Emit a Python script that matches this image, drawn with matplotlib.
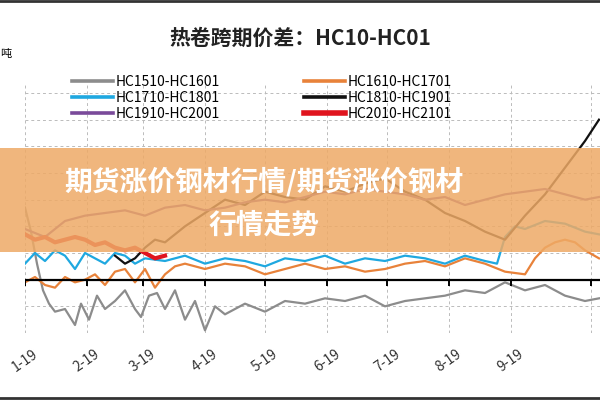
import matplotlib
matplotlib.use("Agg")
import matplotlib.pyplot as plt
from matplotlib.lines import Line2D
from matplotlib.patches import Rectangle

plt.rcParams['font.family'] = ['Noto Sans CJK SC', 'DejaVu Sans']

# day offsets from 2019-01-01 and month tick labels
month_days = [0, 31, 59, 90, 120, 151, 181, 212, 243, 283]
month_labels = ["1-19", "2-19", "3-19", "4-19", "5-19", "6-19", "7-19", "8-19", "9-19", ""]

gray_x = [0, 3, 6, 9, 12, 15, 20, 25, 28, 32, 36, 40, 45, 50, 55, 58, 62, 66, 70, 75, 80, 85, 90, 95,
          100, 110, 120, 130, 140, 150, 160, 170, 180, 190, 200, 210, 220, 230, 240, 250, 260, 270, 280, 287]
gray_y = [270, 180, 60, -40, -90, -120, -110, -170, -90, -150, -60, -110, -80, -40, -110, -140, -60,
          -50, -110, -40, -150, -80, -190, -100, -130, -90, -120, -80, -90, -70, -80, -60, -100, -80,
          -70, -60, -40, -50, -10, -40, -20, -60, -80, -70]

orange_x = [0, 5, 10, 15, 20, 25, 30, 35, 40, 45, 50, 55, 60, 65, 70, 75, 80, 90, 100, 110, 120, 130,
            140, 150, 160, 170, 180, 190, 200, 210, 220, 230, 240, 250, 255, 260, 265, 270, 275, 280, 287]
orange_y = [-10, 10, -20, -30, 10, -10, 0, 20, -20, 30, 40, -10, 40, -30, 20, 50, 60, 40, 60, 50, 20,
            40, 60, 40, 50, 30, 40, 60, 70, 50, 80, 60, 30, 20, 80, 120, 140, 150, 140, 110, 80]

blue_x = [0, 5, 10, 15, 20, 25, 30, 35, 40, 45, 50, 55, 60, 70, 80, 90, 100, 110, 120, 130, 140,
          150, 160, 170, 180, 190, 200, 210, 220, 230, 236, 240, 245, 250, 260, 270, 280, 287]
blue_y = [60, 100, 70, 110, 90, 40, 100, 80, 60, 100, 90, 60, 80, 70, 90, 60, 80, 70, 50, 80, 70, 90,
          60, 80, 70, 90, 80, 60, 90, 70, 60, 160, 200, 190, 220, 210, 180, 170]

black_x = [45, 50, 55, 60, 65, 70, 80, 90, 100, 110, 120, 130, 140, 150, 160, 170, 180, 190, 200,
           210, 220, 230, 240, 250, 260, 270, 280, 287]
black_y = [90, 60, 80, 120, 150, 140, 200, 250, 300, 280, 330, 310, 300, 350, 330, 360, 380, 330,
           300, 250, 220, 180, 150, 240, 320, 420, 520, 600]

purple_x = [0, 10, 20, 30, 40, 50, 60, 70, 80, 90, 100, 110, 120, 130, 140, 150, 160, 170, 180, 190,
            200, 210, 220, 230, 240, 250, 260, 270, 280, 287]
purple_y = [190, 160, 220, 240, 250, 260, 240, 270, 280, 260, 270, 290, 300, 290, 310, 330, 320, 340,
            330, 320, 300, 310, 280, 300, 320, 330, 340, 320, 300, 310]

red_x = [0, 5, 10, 15, 20, 25, 30, 35, 40, 45, 50, 55, 60, 65, 70]
red_y = [170, 150, 160, 140, 150, 160, 150, 130, 140, 120, 110, 120, 100, 80, 90]

series = [
    ("HC1510-HC1601", gray_x, gray_y, "#8c8c8c", 1.6),
    ("HC1610-HC1701", orange_x, orange_y, "#e8823a", 1.6),
    ("HC1710-HC1801", blue_x, blue_y, "#1fa8e0", 1.6),
    ("HC1810-HC1901", black_x, black_y, "#111111", 1.6),
    ("HC1910-HC2001", purple_x, purple_y, "#7a4a9a", 1.6),
    ("HC2010-HC2101", red_x, red_y, "#e0141e", 3.0),
]

fig = plt.figure(figsize=(6, 4), dpi=100)
ax = fig.add_axes([25 / 600, 67 / 400, 1.05, 248 / 400])
for name, xs, ys, c, lw in series:
    ax.plot(xs, ys, color=c, lw=lw)

ax.set_xlim(0, 315)
ax.set_ylim(-200, 730)
ax.set_yticks(range(-200, 701, 100))
ax.set_yticklabels([])
ax.set_xticks(month_days)
ax.set_xticklabels(month_labels, rotation=35, fontsize=10, color="#333333")
ax.tick_params(length=0, pad=10)
ax.grid(True, ls=(0, (3, 3)), color="#bbbbbb", lw=0.7)
for s in ax.spines.values():
    s.set_visible(False)
ax.axhline(0, color="black", lw=1.6)
ax.vlines(month_days, -25, 0, color="black", lw=1.4)

fig.text(0.5, 0.905, "热卷跨期价差：HC10-HC01", ha="center", va="center",
         fontsize=15, fontweight="bold", color="#222222")
fig.text(0.0, 0.865, "吨", fontsize=8, va="center")

# matplotlib fills legend columns first, so reorder for row-wise layout
order = [0, 2, 4, 1, 3, 5]
handles = [Line2D([], [], color=series[i][3], lw=series[i][4] + 1) for i in order]
labels = [series[i][0] for i in order]
ax.legend(handles, labels, ncol=2, loc="upper center",
          bbox_to_anchor=((262 - 25) / 630, 1.09), frameon=False,
          fontsize=10, handlelength=3, columnspacing=6, labelspacing=0.15,
          handletextpad=0.2)

fig.patches.append(Rectangle((0, 148 / 400), 1, 104 / 400, transform=fig.transFigure,
                             facecolor="#eeaa66", alpha=0.85, zorder=10))
fig.text(0.44, 1 - 182 / 400, "期货涨价钢材行情/期货涨价钢材", ha="center", va="center",
         fontsize=20, fontweight="bold", color="white", zorder=11)
fig.text(0.44, 1 - 226 / 400, "行情走势", ha="center", va="center",
         fontsize=20, fontweight="bold", color="white", zorder=11)

fig.add_artist(Line2D([0, 1], [0.997, 0.997], color="#333333", lw=2, transform=fig.transFigure))
fig.add_artist(Line2D([0, 1], [0.004, 0.004], color="#333333", lw=2, transform=fig.transFigure))

fig.savefig("out.png", dpi=100)
